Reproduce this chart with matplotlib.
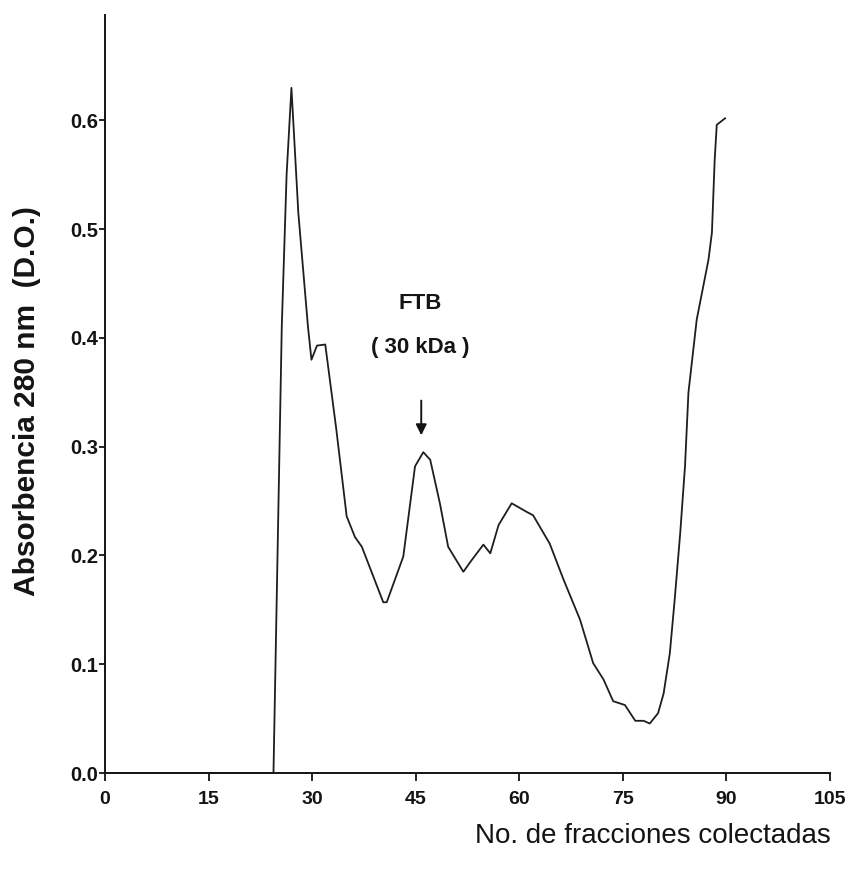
import matplotlib
matplotlib.use("Agg")
import matplotlib.pyplot as plt

plt.rcParams['font.family'] = ['Liberation Sans', 'DejaVu Sans']

# Elution profile: fraction number vs absorbance at 280 nm
fracciones = [0, 24.4, 25.6, 26.3, 27.0, 28.0, 29.4, 29.9, 30.7, 31.9,
              33.5, 35.0, 36.2, 37.2, 40.3, 40.8, 43.2, 44.9, 46.1, 47.1,
              48.5, 49.7, 51.9, 52.9, 54.8, 55.8, 57.0, 58.9, 61.1, 62.0,
              64.4, 66.4, 68.8, 70.7, 72.2, 73.6, 75.3, 76.8, 78.0, 78.9,
              80.1, 80.9, 81.8, 82.5, 83.3, 84.0, 84.5, 85.7, 87.4, 87.9,
              88.3, 88.6, 89.8]
absorbancia = [0.0, 0.0, 0.41, 0.55, 0.63, 0.515, 0.41, 0.38, 0.393, 0.394,
               0.316, 0.236, 0.217, 0.208, 0.157, 0.157, 0.199, 0.282, 0.295, 0.288,
               0.248, 0.208, 0.185, 0.194, 0.210, 0.202, 0.228, 0.248, 0.240, 0.237,
               0.211, 0.178, 0.141, 0.101, 0.086, 0.066, 0.0625, 0.048, 0.048, 0.0455,
               0.055, 0.073, 0.110, 0.159, 0.220, 0.282, 0.350, 0.417, 0.472, 0.497,
               0.564, 0.596, 0.602]

xticks = [0, 15, 30, 45, 60, 75, 90, 105]
yticks = [0.0, 0.1, 0.2, 0.3, 0.4, 0.5, 0.6]

pico_x = 45.8
pico_y = 0.295

ink = '#141414'

fig = plt.figure(figsize=(8.55, 8.88), dpi=100)
ax = fig.add_axes([105 / 855, 1 - 773 / 888, 725 / 855, 758 / 888])

ax.plot(fracciones, absorbancia, color='#1e1e1e', lw=1.3)

ax.set_xlim(0, 105)
ax.set_ylim(0, 0.697)
ax.set_xticks(xticks)
ax.set_xticklabels([str(t) for t in xticks], fontweight='bold')
ax.set_yticks(yticks)
ax.set_yticklabels([f"{t:.1f}" for t in yticks], fontweight='bold')

for s in ('top', 'right'):
    ax.spines[s].set_visible(False)
for s in ('left', 'bottom'):
    ax.spines[s].set_linewidth(1.4)
    ax.spines[s].set_color(ink)

ax.tick_params(axis='x', direction='out', length=6, width=1.3, pad=7,
               labelsize=14, colors=ink)
ax.tick_params(axis='y', direction='out', length=4, width=1.3, pad=1,
               labelsize=14.5, colors=ink)

fig.text(831 / 855, 1 - 836 / 888, 'No. de fracciones colectadas',
         ha='right', va='center', fontsize=20, color=ink)
fig.text(27 / 855, 1 - 401 / 888, 'Absorbencia 280 nm  (D.O.)',
         ha='center', va='center', rotation=90, fontsize=21.5,
         fontweight='bold', color=ink)

ax.text(pico_x - 0.1, 0.432, 'FTB', ha='center', va='center', fontsize=16,
        fontweight='bold', color=ink)
ax.text(pico_x - 0.1, 0.391, '( 30 kDa )', ha='center', va='center', fontsize=16,
        fontweight='bold', color=ink)
ax.annotate('', xy=(pico_x, pico_y + 0.013), xytext=(pico_x, pico_y + 0.05),
            arrowprops=dict(arrowstyle='-|>', color=ink, lw=1.4,
                            mutation_scale=16))

fig.savefig('out.png', dpi=100, facecolor='white')
